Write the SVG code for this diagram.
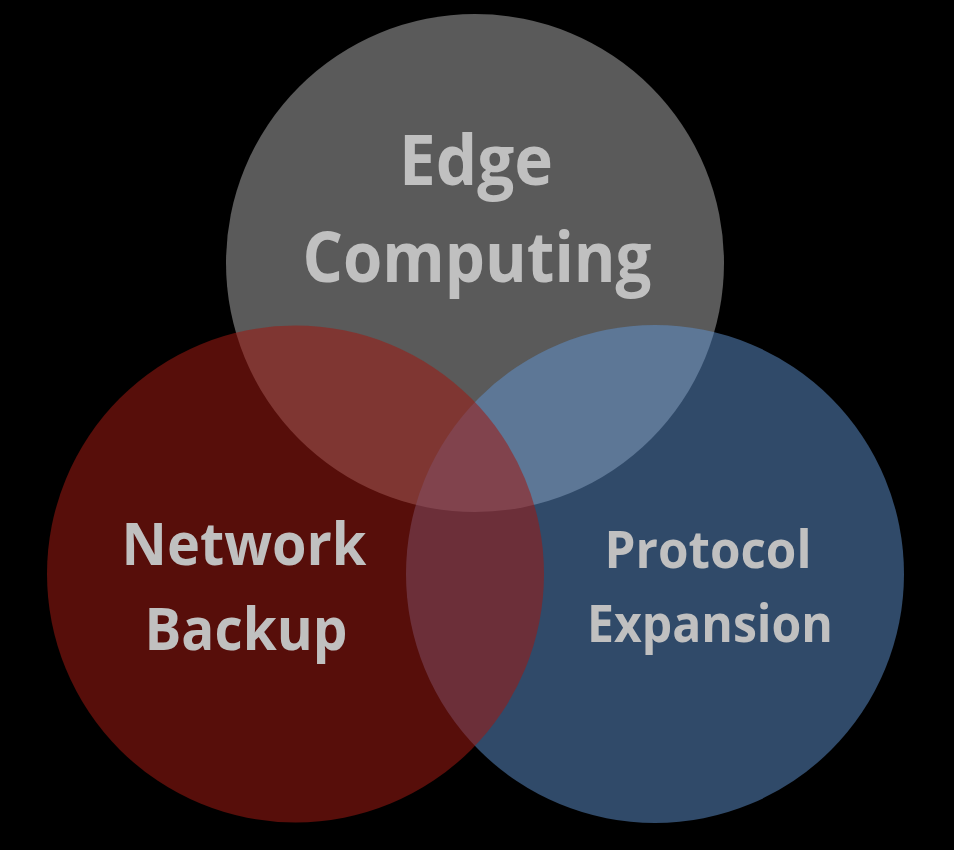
<svg xmlns="http://www.w3.org/2000/svg" width="954" height="850" viewBox="0 0 954 850">
<style>
.lbl{font-family:"Open Sans","Noto Sans","DejaVu Sans",sans-serif;font-weight:700;fill:#c0c0c0;text-anchor:middle}
</style>
<rect width="954" height="850" fill="#000"/>
<g id="edge-computing">
<circle cx="475" cy="263" r="249" fill="#5a5a5a"/>
</g>
<g id="protocol-expansion">
<circle cx="655" cy="574" r="249" fill="#6094d2" fill-opacity="0.5"/>
</g>
<g id="network-backup">
<circle cx="295.5" cy="574" r="248.5" fill="#9e1912" fill-opacity="0.55"/>
</g>
<g id="labels">
<text class="lbl" x="476" y="185" font-size="70" textLength="154" lengthAdjust="spacingAndGlyphs">Edge</text>
<text class="lbl" x="477" y="282" font-size="70" textLength="349" lengthAdjust="spacingAndGlyphs">Computing</text>
<text class="lbl" x="244" y="565" font-size="59" textLength="245" lengthAdjust="spacingAndGlyphs">Network</text>
<text class="lbl" x="246" y="650" font-size="59" textLength="203" lengthAdjust="spacingAndGlyphs">Backup</text>
<text class="lbl" x="708" y="568" font-size="52" textLength="207" lengthAdjust="spacingAndGlyphs">Protocol</text>
<text class="lbl" x="710" y="642" font-size="52" textLength="246" lengthAdjust="spacingAndGlyphs">Expansion</text>
</g>
<g id="connectors"/>
</svg>
